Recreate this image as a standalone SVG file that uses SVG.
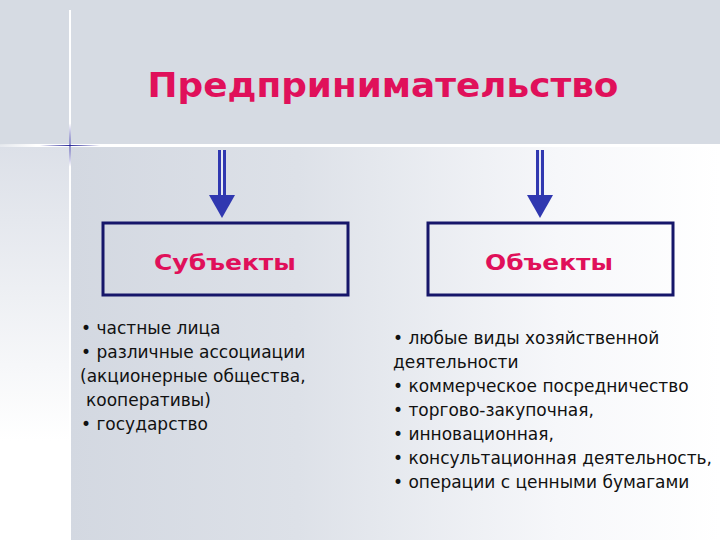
<svg xmlns="http://www.w3.org/2000/svg" width="720" height="540" viewBox="0 0 720 540">
<defs>
<linearGradient id="main" x1="0" y1="0" x2="1" y2="0">
<stop offset="0" stop-color="#d3d8e1"/>
<stop offset="0.35" stop-color="#dde1e8"/>
<stop offset="0.75" stop-color="#f6f7fa"/>
<stop offset="1" stop-color="#ffffff"/>
</linearGradient>
<linearGradient id="side" x1="0" y1="0" x2="0" y2="1">
<stop offset="0" stop-color="#dce0e8"/>
<stop offset="0.75" stop-color="#ffffff"/>
<stop offset="1" stop-color="#ffffff"/>
</linearGradient>
<linearGradient id="hline" x1="0" y1="0" x2="1" y2="0">
<stop offset="0" stop-color="#ffffff" stop-opacity="0.3"/>
<stop offset="0.05" stop-color="#ffffff"/>
<stop offset="1" stop-color="#ffffff"/>
</linearGradient>
<radialGradient id="star" cx="0.5" cy="0.5" r="0.5">
<stop offset="0" stop-color="#2a2a9a"/>
<stop offset="1" stop-color="#2a2a9a" stop-opacity="0"/>
</radialGradient>
<g id="arrow">
<rect x="-4" y="0" width="8" height="48" fill="#3038b0"/>
<rect x="-1" y="0" width="2" height="48" fill="#e8eaf4"/>
<polygon points="-13,45 13,45 0,68" fill="#3038b0"/>
</g>
</defs>
<style>
.title{font-family:"DejaVu Sans","Liberation Sans",sans-serif;font-weight:bold;fill:#e0105a;}
.box{fill:none;stroke:#16166a;stroke-width:3;}
.item{font-family:"DejaVu Sans","Liberation Sans",sans-serif;font-size:17px;fill:#111111;}
</style>
<rect width="720" height="540" fill="#ffffff"/>
<rect x="0" y="0" width="720" height="145" fill="#d6dbe3"/>
<rect x="70" y="145" width="650" height="395" fill="url(#main)"/>
<rect x="0" y="145" width="70" height="395" fill="url(#side)"/>
<rect x="0" y="144" width="720" height="3" fill="url(#hline)"/>
<rect x="69" y="10" width="2" height="530" fill="#ffffff"/>
<rect x="40" y="144.5" width="60" height="2" fill="url(#star)"/>
<rect x="69" y="120" width="2" height="50" fill="url(#star)"/>

<g id="title">
<text class="title" x="383" y="97" font-size="34" text-anchor="middle" textLength="471" lengthAdjust="spacingAndGlyphs">Предпринимательство</text>
</g>

<g id="connectors">
<use href="#arrow" x="222" y="150"/>
<use href="#arrow" x="540" y="150"/>
</g>

<g id="subjects">
<rect class="box" x="103" y="223" width="245" height="72"/>
<text class="title" x="225" y="270" font-size="22" text-anchor="middle" textLength="142" lengthAdjust="spacingAndGlyphs">Субъекты</text>
</g>

<g id="objects">
<rect class="box" x="428" y="223" width="245" height="72"/>
<text class="title" x="549" y="270" font-size="22" text-anchor="middle" textLength="128" lengthAdjust="spacingAndGlyphs">Объекты</text>
</g>

<g id="subjects-list">
<text class="item" x="81" y="334">• частные лица</text>
<text class="item" x="81" y="358">• различные ассоциации</text>
<text class="item" x="80" y="382">(акционерные общества,</text>
<text class="item" x="86" y="406">кооперативы)</text>
<text class="item" x="81" y="430">• государство</text>
</g>

<g id="objects-list">
<text class="item" x="393" y="344">• любые виды хозяйственной</text>
<text class="item" x="393" y="368">деятельности</text>
<text class="item" x="393" y="392">• коммерческое посредничество</text>
<text class="item" x="393" y="416">• торгово-закупочная,</text>
<text class="item" x="393" y="440">• инновационная,</text>
<text class="item" x="393" y="464">• консультационная деятельность,</text>
<text class="item" x="393" y="488">• операции с ценными бумагами</text>
</g>
</svg>
